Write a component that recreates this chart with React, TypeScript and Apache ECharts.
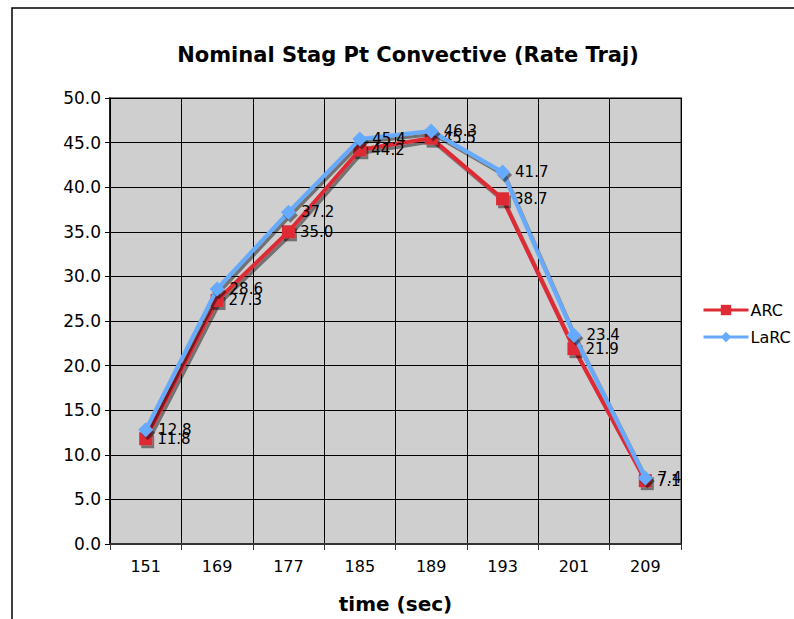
import React, { useEffect, useRef } from "react";
import * as echarts from "echarts";

const categories = ["151", "169", "177", "185", "189", "193", "201", "209"];
const arcValues = [11.8, 27.3, 35.0, 44.2, 45.5, 38.7, 21.9, 7.1];
const larcValues = [12.8, 28.6, 37.2, 45.4, 46.3, 41.7, 23.4, 7.4];
const seriesNames = ["ARC", "LaRC"];
const titleText = "Nominal Stag Pt Convective (Rate Traj)";
const xAxisName = "time (sec)";

const FONT = "DejaVu Sans, Verdana, sans-serif";

export default function App() {
  const ref = useRef<HTMLDivElement>(null);
  useEffect(() => {
    if (!ref.current) return;
    const chart = echarts.init(ref.current, undefined, { renderer: "svg" });
    const shadow = {
      shadowColor: "rgba(0,0,0,0.45)",
      shadowOffsetX: 2,
      shadowOffsetY: 3,
      shadowBlur: 0,
    };
    const label = {
      show: true,
      position: "right",
      distance: 5,
      color: "#000",
      fontFamily: FONT,
      fontSize: 15,
      formatter: (p: any) => Number(p.value).toFixed(1),
    };
    chart.setOption({
      animation: false,
      backgroundColor: "#fff",
      textStyle: { fontFamily: FONT },
      title: {
        text: titleText,
        left: 403,
        textAlign: "center",
        top: 39,
        textStyle: { fontFamily: FONT, fontSize: 21, fontWeight: "bold", color: "#000" },
      },
      graphic: [
        {
          type: "rect",
          shape: { x: 12, y: 8, width: 800, height: 700 },
          style: { fill: "none", stroke: "#000", lineWidth: 1.5 },
          silent: true,
          z: -10,
        },
      ],
      legend: {
        orient: "vertical",
        left: 697,
        top: 297,
        itemWidth: 45,
        itemHeight: 13,
        itemGap: 11,
        data: seriesNames,
        lineStyle: { width: 3, shadowColor: "transparent" },
        itemStyle: { shadowColor: "transparent" },
        textStyle: { fontFamily: FONT, fontSize: 16, color: "#000", padding: [0, 0, 0, -3] },
      },
      grid: {
        left: 110,
        top: 98,
        right: 113,
        bottom: 73,
        show: true,
        backgroundColor: "#CFCFCF",
        borderColor: "#808080",
        borderWidth: 2,
      },
      xAxis: {
        type: "category",
        data: categories,
        boundaryGap: true,
        name: xAxisName,
        nameLocation: "middle",
        nameGap: 50,
        nameTextStyle: { fontFamily: FONT, fontSize: 20, fontWeight: "bold", color: "#000" },
        axisLine: { lineStyle: { color: "#333", width: 2 } },
        axisTick: { show: true, alignWithLabel: false, length: 6, lineStyle: { color: "#333" } },
        axisLabel: { fontFamily: FONT, fontSize: 16, color: "#000", margin: 14 },
        splitLine: { show: true, lineStyle: { color: "#000", width: 1 } },
      },
      yAxis: {
        type: "value",
        min: 0,
        max: 50,
        interval: 5,
        axisLine: { show: true, lineStyle: { color: "#000", width: 1.5 } },
        axisTick: { show: true, length: 5, lineStyle: { color: "#000" } },
        axisLabel: {
          fontFamily: FONT,
          fontSize: 17,
          color: "#000",
          margin: 9,
          formatter: (v: number) => v.toFixed(1),
        },
        splitLine: { show: true, lineStyle: { color: "#000", width: 1 } },
      },
      series: [
        {
          name: seriesNames[0],
          type: "line",
          data: arcValues,
          symbol: "rect",
          symbolSize: 13,
          color: "#DD2C35",
          lineStyle: { width: 4, color: "#DD2C35", ...shadow },
          itemStyle: { color: "#DD2C35", ...shadow },
          label,
          z: 2,
        },
        {
          name: seriesNames[1],
          type: "line",
          data: larcValues,
          symbol: "diamond",
          symbolSize: 15,
          color: "#66AAFF",
          lineStyle: { width: 4, color: "#66AAFF", ...shadow },
          itemStyle: { color: "#66AAFF", ...shadow },
          label,
          z: 3,
        },
      ],
    });
    return () => chart.dispose();
  }, []);
  return (
    <div
      ref={ref}
      style={{ position: "absolute", left: 0, top: 0, width: 794, height: 619 }}
    />
  );
}
